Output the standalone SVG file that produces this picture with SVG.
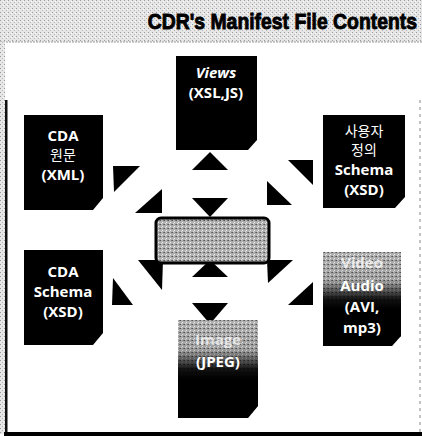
<svg xmlns="http://www.w3.org/2000/svg" width="422" height="436" viewBox="0 0 422 436">
<defs>
<pattern id="dots" width="4" height="4" patternUnits="userSpaceOnUse">
<rect width="4" height="4" fill="#e6e6e6"/>
<rect x="0" y="0" width="1" height="1" fill="#9a9a9a"/>
<rect x="2" y="2" width="1" height="1" fill="#b8b8b8"/>
<rect x="3" y="1" width="1" height="1" fill="#f8f8f8"/>
</pattern>
<pattern id="dots2" width="4" height="4" patternUnits="userSpaceOnUse">
<rect width="4" height="4" fill="#b0b0b0"/>
<rect x="0" y="0" width="1" height="1" fill="#555"/>
<rect x="2" y="2" width="1" height="1" fill="#f0f0f0"/>
<rect x="3" y="0" width="1" height="1" fill="#777"/>
<rect x="1" y="3" width="1" height="1" fill="#e0e0e0"/>
</pattern>
<linearGradient id="fade" x1="0" y1="0" x2="0" y2="1">
<stop offset="0" stop-color="#000" stop-opacity="0"/>
<stop offset="0.3" stop-color="#000" stop-opacity="0.1"/>
<stop offset="0.5" stop-color="#000" stop-opacity="0.9"/>
<stop offset="0.6" stop-color="#000" stop-opacity="1"/>
<stop offset="1" stop-color="#000" stop-opacity="1"/>
</linearGradient>
</defs>
<style>
.box{fill:#000}
.t{font-family:"Open Sans","DejaVu Sans",sans-serif;font-weight:bold;font-size:15px;fill:#fff;text-anchor:middle}
.k{font-family:"Noto Sans CJK KR","Noto Sans",sans-serif;font-weight:normal;font-size:14px;fill:#fff;text-anchor:middle}
.arr{fill:#000}
.title{font-family:"Liberation Sans",Arial,sans-serif;font-weight:bold;font-size:22px;fill:#000;stroke:#000;stroke-width:0.9}
</style>
<rect width="422" height="436" fill="#fff"/>
<g id="frame">
<rect x="0" y="0" width="422" height="42" fill="url(#dots)"/>
<line x1="0" y1="42" x2="422" y2="42" stroke="#9a9a9a" stroke-width="1" stroke-dasharray="2 1"/>
<rect x="0" y="42" width="5" height="392" fill="url(#dots)"/>
<rect x="5" y="100" width="2.5" height="334" fill="#111"/>
<rect x="4" y="432" width="418" height="4" fill="#000"/>
<line x1="420" y1="100" x2="420" y2="432" stroke="#888" stroke-width="1" stroke-dasharray="3 4"/>
<text class="title" transform="translate(417,29) scale(0.88,1)" text-anchor="end">CDR's Manifest File Contents</text>
</g>
<g id="connectors">
<polygon class="arr" points="210,152 192,170 228,170"/>
<polygon class="arr" points="192,198 228,198 210,217"/>
<polygon class="arr" points="210,260 192,277 228,277"/>
<polygon class="arr" points="192,303 228,303 210,324"/>
<polygon class="arr" points="113,166 140,166 114,192"/>
<polygon class="arr" points="162,189 162,213 135,213"/>
<polygon class="arr" points="288,160 313,160 313,185"/>
<polygon class="arr" points="267,181 267,205 292,205"/>
<polygon class="arr" points="138,260 163,260 162,290"/>
<polygon class="arr" points="113,278 112,305 133,305"/>
<polygon class="arr" points="267,260 293,260 268,283"/>
<polygon class="arr" points="313,282 313,305 288,305"/>
</g>
<g id="views">
<polygon class="box" points="176,56 257,56 257,140 248,150 176,150"/>
<text class="t" x="216" y="78" font-style="italic" font-size="16">Views</text>
<text class="t" x="216" y="98">(XSL,JS)</text>
</g>
<g id="cda-xml">
<polygon class="box" points="24,115 103,115 103,198 93,210 24,210"/>
<text class="t" x="63" y="141">CDA</text>
<text class="k" x="63" y="160" font-size="13">원문</text>
<text class="t" x="63" y="180">(XML)</text>
</g>
<g id="user-schema">
<polygon class="box" points="323,115 405,115 405,197 395,208 323,208"/>
<text class="k" x="364" y="136">사용자</text>
<text class="k" x="364" y="155">정의</text>
<text class="t" x="364" y="175">Schema</text>
<text class="t" x="364" y="195">(XSD)</text>
</g>
<g id="center">
<rect x="156" y="218" width="113" height="45" rx="5" fill="url(#dots2)" stroke="#000" stroke-width="3"/>
</g>
<g id="cda-schema">
<polygon class="box" points="24,250 103,250 103,333 93,345 24,345"/>
<text class="t" x="63" y="277">CDA</text>
<text class="t" x="63" y="297">Schema</text>
<text class="t" x="63" y="317">(XSD)</text>
</g>
<g id="audio">
<polygon fill="url(#dots2)" points="323,252 401,252 401,336 392,346 323,346"/>
<polygon fill="url(#fade)" points="323,252 401,252 401,336 392,346 323,346"/>
<text class="t" x="362" y="268" fill="#f2f2f2" opacity="0.75">Video</text>
<text class="t" x="362" y="291">Audio</text>
<text class="t" x="362" y="312">(AVI,</text>
<text class="t" x="362" y="333">mp3)</text>
</g>
<g id="jpeg">
<polygon fill="url(#dots2)" points="178,320 258,320 258,406 248,418 178,418"/>
<polygon fill="url(#fade)" points="178,320 258,320 258,406 248,418 178,418"/>
<text class="t" x="218" y="345" fill="#f2f2f2" opacity="0.7">Image</text>
<text class="t" x="218" y="367">(JPEG)</text>
</g>
</svg>
